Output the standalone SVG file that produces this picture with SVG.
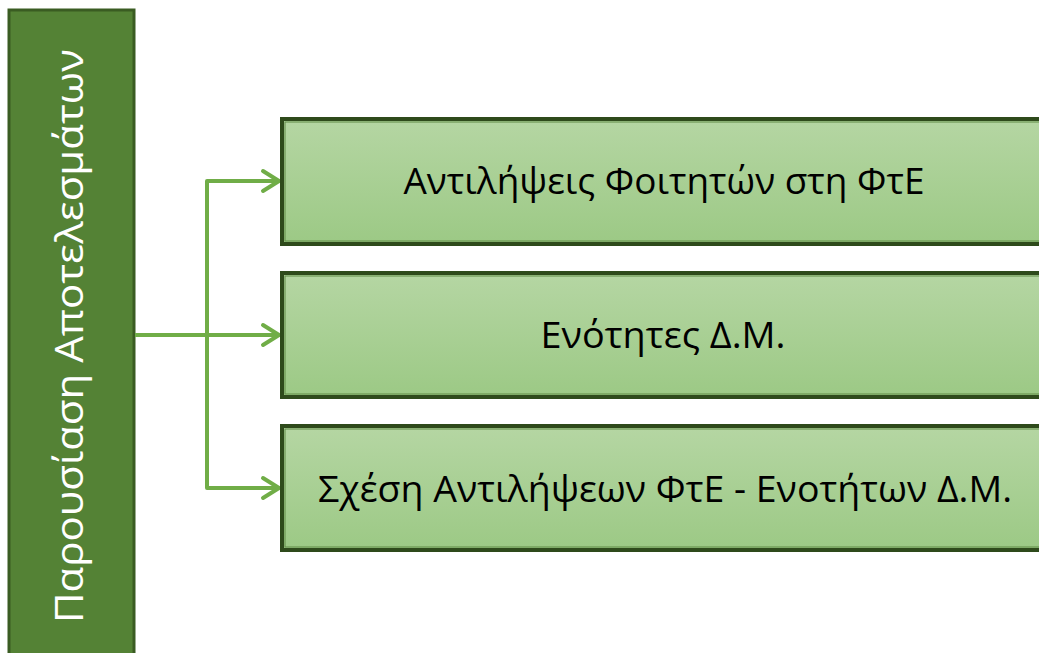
<svg xmlns="http://www.w3.org/2000/svg" width="1039" height="653" viewBox="0 0 1039 653">
  <defs>
    <linearGradient id="boxFill" x1="0" y1="0" x2="0" y2="1">
      <stop offset="0" stop-color="#b5d6a3"/>
      <stop offset="1" stop-color="#9cc985"/>
    </linearGradient>
    <marker id="chevron" markerUnits="userSpaceOnUse" markerWidth="24" markerHeight="26" viewBox="-20 -13 24 26" refX="0" refY="0" orient="auto">
      <polyline points="-16,-10 0,0 -16,10" fill="none" stroke="#70ad47" stroke-width="4" stroke-linecap="round" stroke-linejoin="round"/>
    </marker>
    <style>
      .bar { fill: #548235; stroke: #3a5c22; stroke-width: 3; }
      .box { fill: url(#boxFill); stroke: #2e4a1b; stroke-width: 4; }
      .box-inner { fill: none; stroke: #5f8a45; stroke-width: 1; }
      .label { font-family: "Open Sans", "Noto Sans", "Liberation Sans", sans-serif; font-size: 37px; fill: #000000; text-anchor: middle; }
      .title { font-family: "Open Sans", "Noto Sans", "Liberation Sans", sans-serif; font-size: 38px; fill: #ffffff; text-anchor: middle; }
      .conn { fill: none; stroke: #70ad47; stroke-width: 4; stroke-linejoin: round; }
    </style>
  </defs>

  <rect width="1039" height="653" fill="#ffffff"/>

  <!-- vertical title bar -->
  <g id="node-title">
    <rect class="bar" x="9" y="10" width="125" height="660"/>
    <text class="title" transform="translate(83,336) rotate(-90)" textLength="574" lengthAdjust="spacingAndGlyphs">Παρουσίαση Αποτελεσμάτων</text>
  </g>

  <!-- connectors -->
  <g id="connectors">
    <line class="conn" x1="135" y1="335" x2="279" y2="335" marker-end="url(#chevron)"/>
    <polyline class="conn" points="207,335 207,181 279,181" marker-end="url(#chevron)"/>
    <polyline class="conn" points="207,335 207,488 279,488" marker-end="url(#chevron)"/>
  </g>

  <g id="node-perceptions">
    <rect class="box" x="282" y="119" width="780" height="125"/>
    <rect class="box-inner" x="285" y="122" width="774" height="119"/>
    <text class="label" x="664" y="194" textLength="521" lengthAdjust="spacingAndGlyphs">Αντιλήψεις Φοιτητών στη ΦτΕ</text>
  </g>

  <g id="node-units">
    <rect class="box" x="282" y="273" width="780" height="124"/>
    <rect class="box-inner" x="285" y="276" width="774" height="118"/>
    <text class="label" x="663" y="348" textLength="245" lengthAdjust="spacingAndGlyphs">Ενότητες Δ.Μ.</text>
  </g>

  <g id="node-relation">
    <rect class="box" x="282" y="426" width="780" height="124"/>
    <rect class="box-inner" x="285" y="429" width="774" height="118"/>
    <text class="label" x="665" y="502" textLength="694" lengthAdjust="spacingAndGlyphs">Σχέση Αντιλήψεων ΦτΕ - Ενοτήτων Δ.Μ.</text>
  </g>
</svg>
